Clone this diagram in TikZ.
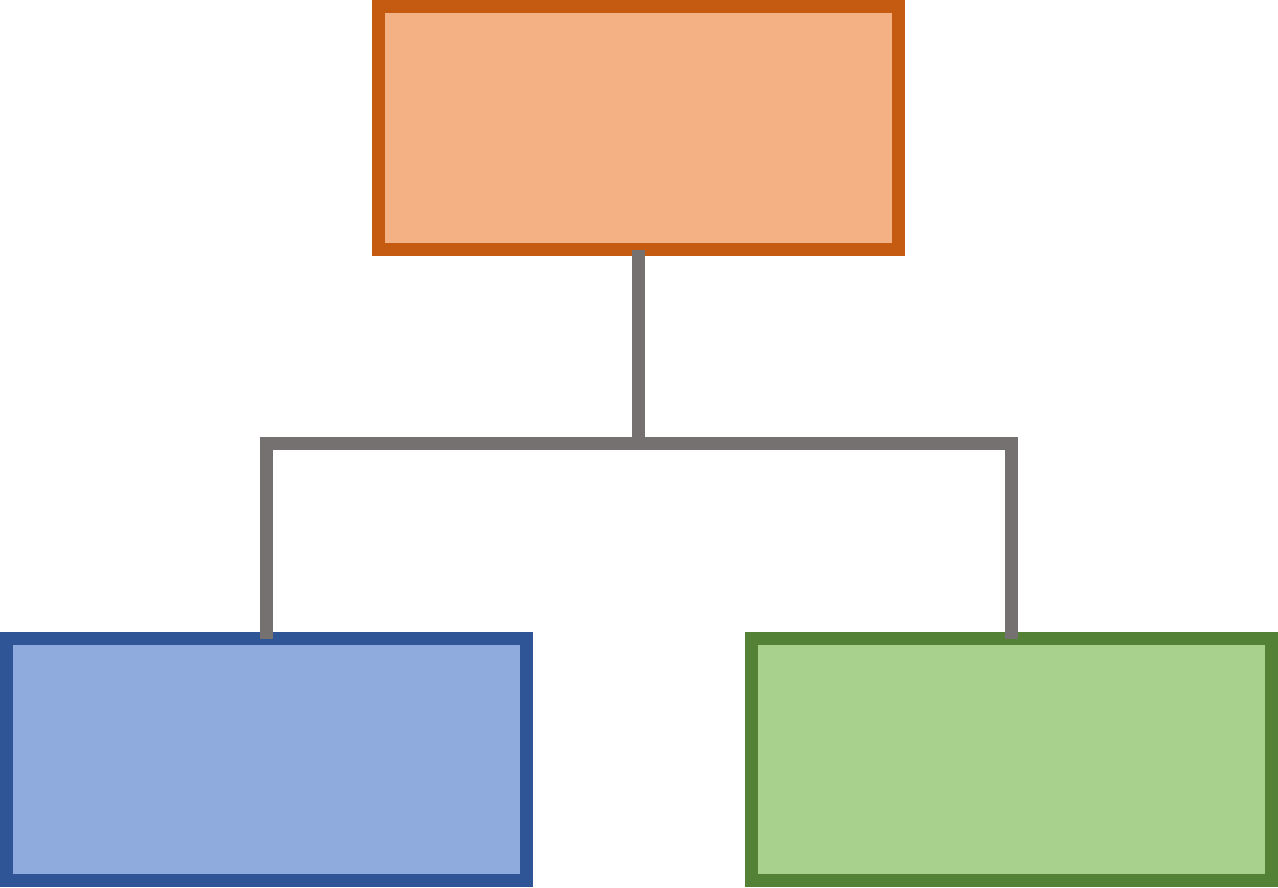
\documentclass[tikz,border=0pt]{standalone}
\begin{document}
\begin{tikzpicture}[x=1pt,y=-1pt,
  box/.style={draw, line width=13pt, inner sep=0pt, outer sep=0pt, minimum width=520pt, minimum height=242pt},
  conn/.style={draw=lineGrey, line width=13pt, line join=miter, line cap=butt}]
\definecolor{orFill}{HTML}{F4B183}
\definecolor{orLine}{HTML}{C55A11}
\definecolor{blFill}{HTML}{8FAADC}
\definecolor{blLine}{HTML}{2F5597}
\definecolor{grFill}{HTML}{A9D18E}
\definecolor{grLine}{HTML}{538135}
\definecolor{lineGrey}{HTML}{767171}
\useasboundingbox (0,0) rectangle (1278,887);
\node[box, fill=orFill, draw=orLine, minimum height=243pt] (top) at (638.5,128) {};
\node[box, fill=blFill, draw=blLine] (left) at (266.5,759.5) {};
\node[box, fill=grFill, draw=grLine] (right) at (1011.5,759.5) {};
\coordinate (bar) at (638.5,443.7);
\draw[conn] (top.south) -- (bar);
\draw[conn] (left.north) |- (bar) -| (right.north);
\end{tikzpicture}
\end{document}
